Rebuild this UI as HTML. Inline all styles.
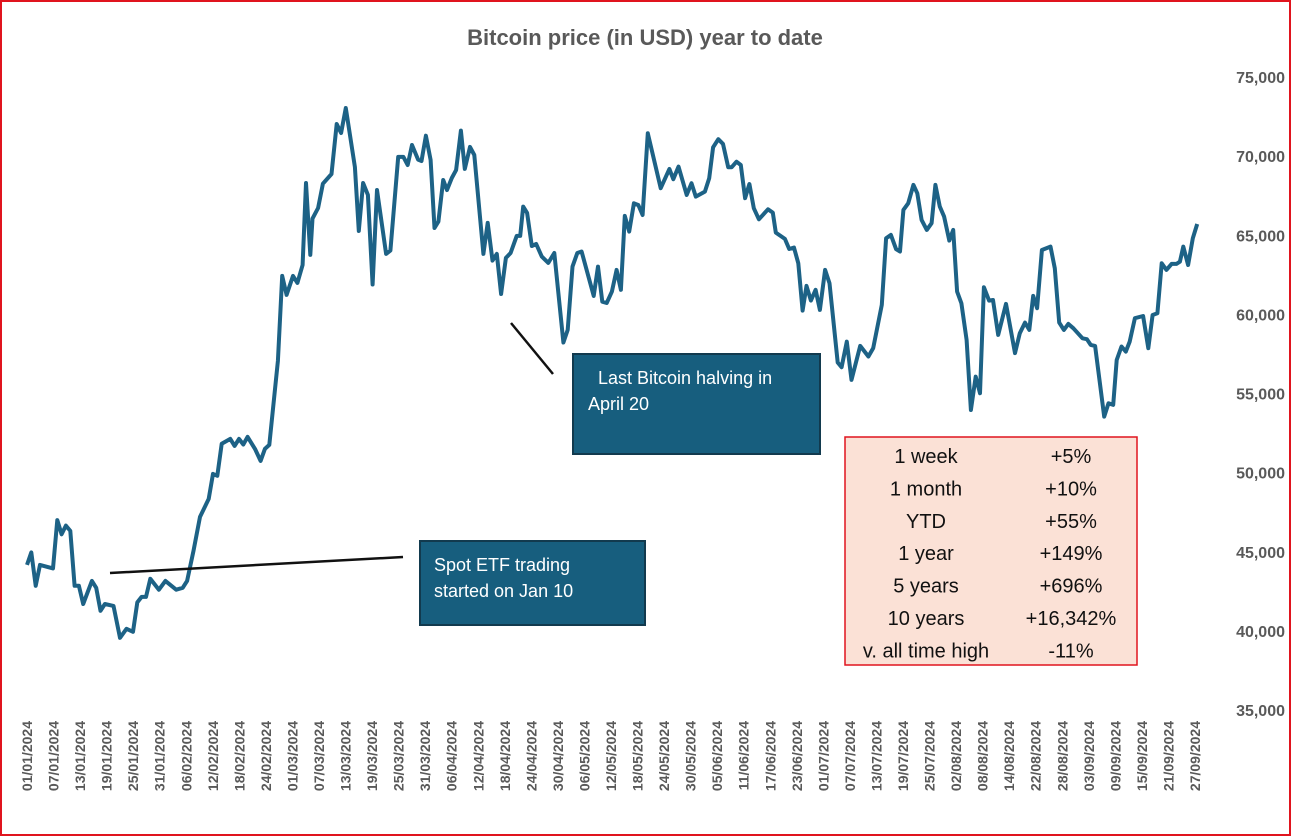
<!DOCTYPE html>
<html><head><meta charset="utf-8"><style>
body{margin:0;background:#fff;}
svg{display:block;font-family:"Liberation Sans",sans-serif;}
</style></head><body>
<svg id="chart" width="1292" height="837">
<rect x="1" y="1" width="1289" height="834" fill="#fff" stroke="#e0141e" stroke-width="2"/>
<text x="645" y="45" text-anchor="middle" font-size="22" font-weight="bold" fill="#595959">Bitcoin price (in USD) year to date</text>
<g id="yaxis"></g>
<g id="xaxis"></g>
<path id="series" fill="none" stroke="#1d6286" stroke-width="4" stroke-linejoin="round"/>
<line x1="110" y1="573" x2="403" y2="557" stroke="#111" stroke-width="2.5"/>
<rect x="420" y="541" width="225" height="84" fill="#175e7e" stroke="#123a4e" stroke-width="2"/>
<text x="434" y="571" font-size="18" fill="#fff">Spot ETF trading</text>
<text x="434" y="597" font-size="18" fill="#fff">started on Jan 10</text>
<line x1="511" y1="323" x2="553" y2="374" stroke="#111" stroke-width="2.5"/>
<rect x="573" y="354" width="247" height="100" fill="#175e7e" stroke="#123a4e" stroke-width="2"/>
<text x="598" y="384" font-size="18" fill="#fff">Last Bitcoin halving in</text>
<text x="588" y="410" font-size="18" fill="#fff">April 20</text>
<rect x="845" y="437" width="292" height="228" fill="#fbe1d6" stroke="#e0141e" stroke-width="1.5"/>
<g id="table"></g>
</svg>
<script>
const days=[0,1,2,3,6,7,8,9,10,11,12,13,15,16,17,18,20,21.5,23,24.5,25.5,26.5,27.5,28.5,30.5,32,34.5,36,37,38.5,40,42,43,44,45,47,48,49,50,51,52.7,54,55,56,58,59,60,61.5,62.5,63.7,64.5,65.5,66,67.3,68.4,70.4,71.6,72.6,73.7,75.8,76.7,77.7,78.8,79.9,80.9,83,84,85.8,87,88,89,90.4,91.2,92.2,93.3,94.2,95.1,96.2,97.1,98.2,99.2,100.3,101.2,102.4,103.4,105.5,106.5,107.6,108.6,109.6,110.7,111.8,113.2,114,114.7,115.6,116.7,117.7,119,120.5,121.9,124,125,126.1,127.2,128.2,131,132,133,134,135.2,136.3,137.3,138.2,139.2,140.3,141.3,142.3,143.5,146.5,148.5,149.4,150.6,152.5,153.6,154.6,156.7,157.7,158.6,159.8,160.9,162.1,162.9,164,165,166,167,168,169.2,171.3,172.4,173.1,175.2,176.2,177.3,178.3,179.3,180.2,181.2,182.3,183.3,184.5,185.5,187.4,188.3,189.5,190.6,192.6,194.5,195.6,197.6,198.6,199.7,200.9,201.8,202.6,203.7,204.9,205.8,206.8,208,209.1,210,211,212,213.2,214.1,215,216,217.2,218.2,219.3,220.3,221.2,222.4,223.3,224.5,226.3,228.4,229.5,230.7,231.7,232.6,233.5,234.6,236.6,237.6,238.6,239.7,240.7,241.9,244,245,245.9,246.9,249,250,251.1,251.9,253,254,254.9,256.1,258,259.2,260.2,261.3,262.3,263.4,264.6,265.7,266.5,267.3,268.4,269.5,270.5];
const prices=[44170,44960,42850,44170,43950,47000,46100,46650,46320,42850,42850,41700,43160,42720,41270,41700,41580,39560,40130,39940,41800,42150,42150,43290,42600,43160,42600,42720,43160,45060,47200,48340,49920,49800,51820,52130,51690,52130,51780,52260,51500,50740,51500,51750,57060,62430,61230,62430,61990,63120,68300,63760,66050,66720,68260,68870,72030,71460,73040,69310,65270,68300,67550,61890,67860,63820,64030,69950,69950,69440,70700,69780,69690,71290,69760,65460,65860,68490,67860,68620,69120,71610,69190,70580,70070,63820,65780,63400,63820,61290,63570,63880,64960,64960,66810,66410,64320,64450,63650,63250,63880,58220,59020,63020,63880,63970,61170,63020,60800,60720,61440,62810,61550,66220,65230,67020,66910,66280,71440,67970,69190,68540,69340,67550,68290,67440,67760,68600,70560,71070,70770,69300,69300,69650,69440,67340,68240,66710,66010,66640,66430,65170,64770,64130,64220,63230,60240,61800,60870,61550,60280,62810,61970,56960,56660,58280,55860,58010,57340,57870,60600,64810,65020,64120,63970,66600,67020,68180,67650,65970,65340,65760,68180,66810,66180,64660,65340,61440,60700,58390,53960,56070,55020,61720,60870,60910,58700,60660,57550,58810,59480,59020,61170,60390,64070,64280,62910,59480,59020,59400,59120,58490,58430,58070,58010,53540,54380,54280,57120,57970,57650,58280,59760,59900,57860,59960,60070,63230,62810,63190,63190,63330,64280,63120,64810,65710];
const yTicks=[35000,40000,45000,50000,55000,60000,65000,70000,75000];
const xTickLabels=["01/01/2024","07/01/2024","13/01/2024","19/01/2024","25/01/2024","31/01/2024","06/02/2024","12/02/2024","18/02/2024","24/02/2024","01/03/2024","07/03/2024","13/03/2024","19/03/2024","25/03/2024","31/03/2024","06/04/2024","12/04/2024","18/04/2024","24/04/2024","30/04/2024","06/05/2024","12/05/2024","18/05/2024","24/05/2024","30/05/2024","05/06/2024","11/06/2024","17/06/2024","23/06/2024","01/07/2024","07/07/2024","13/07/2024","19/07/2024","25/07/2024","02/08/2024","08/08/2024","14/08/2024","22/08/2024","28/08/2024","03/09/2024","09/09/2024","15/09/2024","21/09/2024","27/09/2024"];
const tableLabels=["1 week","1 month","YTD","1 year","5 years","10 years","v. all time high"];
const tableValues=["+5%","+10%","+55%","+149%","+696%","+16,342%","-11%"];
const NS="http://www.w3.org/2000/svg";
const x0=27,x1=1195,maxDay=270;
const yScale=v=>77+(75000-v)/40000*633;
const xScale=d=>x0+d/maxDay*(x1-x0);
const yG=document.getElementById('yaxis');
yTicks.forEach(v=>{const t=document.createElementNS(NS,'text');
t.setAttribute('x',1285);t.setAttribute('y',yScale(v)+6);t.setAttribute('text-anchor','end');
t.setAttribute('font-size','16');t.setAttribute('font-weight','bold');t.setAttribute('fill','#595959');
t.textContent=v.toLocaleString('en-US');


yG.appendChild(t);});
const xG=document.getElementById('xaxis');
const n=xTickLabels.length;
xTickLabels.forEach((s,i)=>{const x=x0+i*(x1-x0)/(n-1);const t=document.createElementNS(NS,'text');
t.setAttribute('transform','translate('+(x+5)+',721) rotate(-90)');t.setAttribute('text-anchor','end');
t.setAttribute('font-size','14');t.setAttribute('font-weight','bold');t.setAttribute('fill','#595959');
t.textContent=s;


xG.appendChild(t);});
document.getElementById('series').setAttribute('d',days.map((d,i)=>(i?'L':'M')+xScale(d).toFixed(1)+','+yScale(prices[i]).toFixed(1)).join(''));
const tG=document.getElementById('table');
tableLabels.forEach((s,i)=>{const y=463+i*32.4;
const a=document.createElementNS(NS,'text');a.setAttribute('x',926);a.setAttribute('y',y);a.setAttribute('text-anchor','middle');a.setAttribute('font-size','20');a.setAttribute('fill','#111');a.textContent=s;


tG.appendChild(a);
const b=document.createElementNS(NS,'text');b.setAttribute('x',1071);b.setAttribute('y',y);b.setAttribute('text-anchor','middle');b.setAttribute('font-size','20');b.setAttribute('fill','#111');b.textContent=tableValues[i];


tG.appendChild(b);});
</script>
</body></html>
